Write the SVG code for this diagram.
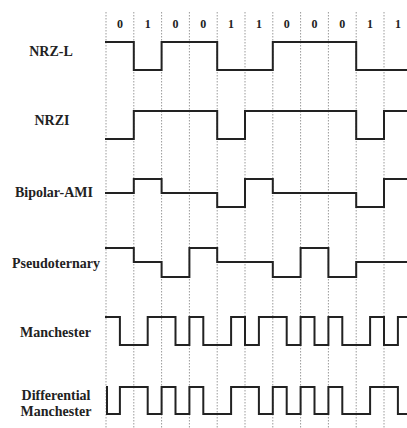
<svg xmlns="http://www.w3.org/2000/svg" width="407" height="428" viewBox="0 0 407 428">
<style>
.grid{stroke:#9a9a9a;stroke-width:1;stroke-dasharray:1.5 1.5;fill:none}
.sig{stroke:#222;stroke-width:2;fill:none;stroke-linejoin:miter;stroke-linecap:square}
.lbl{font-family:"Liberation Serif","Times New Roman",serif;font-weight:bold;font-size:14px;fill:#222;text-anchor:middle}
.bit{font-family:"Liberation Serif","Times New Roman",serif;font-weight:bold;font-size:12px;fill:#222;text-anchor:middle}
</style>
<rect width="407" height="428" fill="#fff"/>
<g id="grid">
<line class="grid" x1="106" y1="12" x2="106" y2="428"/>
<line class="grid" x1="133.8" y1="12" x2="133.8" y2="428"/>
<line class="grid" x1="161.6" y1="12" x2="161.6" y2="428"/>
<line class="grid" x1="189.4" y1="12" x2="189.4" y2="428"/>
<line class="grid" x1="217.2" y1="12" x2="217.2" y2="428"/>
<line class="grid" x1="245" y1="12" x2="245" y2="428"/>
<line class="grid" x1="272.8" y1="12" x2="272.8" y2="428"/>
<line class="grid" x1="300.6" y1="12" x2="300.6" y2="428"/>
<line class="grid" x1="328.4" y1="12" x2="328.4" y2="428"/>
<line class="grid" x1="356.2" y1="12" x2="356.2" y2="428"/>
<line class="grid" x1="384" y1="12" x2="384" y2="428"/>
</g>
<g id="bits">
<text class="bit" x="119.9" y="28">0</text>
<text class="bit" x="147.7" y="28">1</text>
<text class="bit" x="175.5" y="28">0</text>
<text class="bit" x="203.3" y="28">0</text>
<text class="bit" x="231.1" y="28">1</text>
<text class="bit" x="258.9" y="28">1</text>
<text class="bit" x="286.7" y="28">0</text>
<text class="bit" x="314.5" y="28">0</text>
<text class="bit" x="342.3" y="28">0</text>
<text class="bit" x="370.1" y="28">1</text>
<text class="bit" x="397.9" y="28">1</text>
</g>
<g id="nrzl">
<text class="lbl" x="51" y="56">NRZ-L</text>
<path class="sig" d="M106,42 H133.8 V70 H161.6 V42 H217.2 V70 H272.8 V42 H356.2 V70 H407"/>
</g>
<g id="nrzi">
<text class="lbl" x="52" y="125">NRZI</text>
<path class="sig" d="M106,139 H133.8 V111 H217.2 V139 H245 V111 H356.2 V139 H384 V111 H407"/>
</g>
<g id="ami">
<text class="lbl" x="54" y="197">Bipolar-AMI</text>
<path class="sig" d="M106,193 H133.8 V179 H161.6 V193 H217.2 V207 H245 V179 H272.8 V193 H356.2 V207 H384 V179 H407"/>
</g>
<g id="pseudo">
<text class="lbl" x="56" y="268">Pseudoternary</text>
<path class="sig" d="M106,248 H133.8 V262 H161.6 V277 H189.4 V248 H217.2 V262 H272.8 V277 H300.6 V248 H328.4 V277 H356.2 V262 H407"/>
</g>
<g id="manchester">
<text class="lbl" x="55.5" y="337">Manchester</text>
<path class="sig" d="M106,317 H119.9 V345 H147.7 V317 H175.5 V345 H189.4 V317 H203.3 V345 H231.1 V317 H245 V345 H258.9 V317 H286.7 V345 H300.6 V317 H314.5 V345 H328.4 V317 H342.3 V345 H370.1 V317 H384 V345 H397.9 V317 H407"/>
</g>
<g id="diffmanchester">
<text class="lbl" x="56" y="400">Differential</text>
<text class="lbl" x="56" y="416">Manchester</text>
<path class="sig" d="M107,387 V414 H119.9 V387 H147.7 V414 H161.6 V387 H175.5 V414 H189.4 V387 H203.3 V414 H231.1 V387 H258.9 V414 H272.8 V387 H286.7 V414 H300.6 V387 H314.5 V414 H328.4 V387 H342.3 V414 H370.1 V387 H397.9 V414 H407"/>
</g>
</svg>
